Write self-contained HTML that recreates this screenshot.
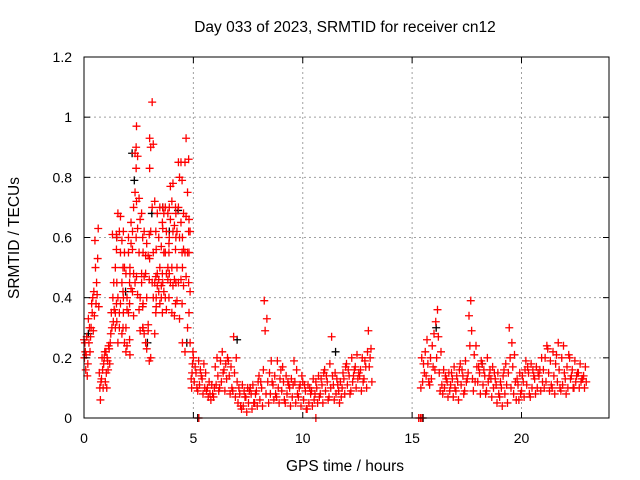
<!DOCTYPE html>
<html><head><meta charset="utf-8"><style>
html,body{margin:0;padding:0;background:#fff;}
svg{display:block;font-family:"Liberation Sans",sans-serif;}
</style></head><body>
<svg id="chart" width="640" height="480">
<rect x="0" y="0" width="640" height="480" fill="#fff"/>
<g id="grid"></g>
<g id="marks"></g>
<rect x="84" y="57" width="525" height="361" fill="none" stroke="#000" stroke-width="1"/>
<g id="axes"></g>
<text x="345" y="32" text-anchor="middle" font-size="15.5" fill="#000">Day 033 of 2023, SRMTID for receiver cn12</text>
<text x="345" y="471" text-anchor="middle" font-size="15.5" fill="#000">GPS time / hours</text>
<text transform="translate(19,238) rotate(-90)" text-anchor="middle" font-size="15.5" fill="#000">SRMTID / TECUs</text>
</svg>
<script>
const xTicks=[0,5,10,15,20];
const xTickLabels=["0","5","10","15","20"];
const yTicks=[0,0.2,0.4,0.6,0.8,1.0,1.2];
const yTickLabels=["0","0.2","0.4","0.6","0.8","1","1.2"];
const binStarts1=[0.0,0.1,0.2,0.3,0.4,0.5,0.6,0.7,0.8,0.9,1.0,1.1,1.2,1.3,1.4,1.5,1.6,1.7,1.8,1.9,2.0,2.1,2.2,2.3,2.4,2.5,2.6,2.7,2.8,2.9,3.0,3.1,3.2,3.3,3.4,3.5,3.6,3.7,3.8,3.9,4.0,4.1,4.2,4.3,4.4,4.5,4.6,4.7,4.8,4.9];
const binValues1=[
[.26,.22,.20,.16,.25],[.27,.21,.18,.14],[.30,.25,.33,.22],[.35,.38,.30,.27],[.40,.34,.42,.29],[.50,.59,.45,.38],[.63,.53,.41,.37],[.12,.06,.10,.15],[.13,.10,.16,.20],[.20,.18,.12,.22],
[.22,.20,.15,.19,.10],[.18,.23,.24,.16],[.25,.30,.35,.28],[.45,.40,.36,.32,.61],[.35,.38,.50,.56,.30,.61],[.68,.60,.40,.32,.25,.45],[.55,.62,.67,.35,.38,.30],[.50,.45,.30,.28,.42,.59],[.62,.50,.35,.25,.40,.55],[.48,.40,.30,.24,.22,.36],
[.55,.45,.35,.38,.60,.26],[.65,.50,.43,.48,.58,.21],[.70,.62,.48,.42,.34,.56],[.90,.88,.83,.75,.60,.45],[.97,.87,.72,.63,.47,.41],[.73,.66,.55,.40,.36,.29],[.68,.60,.48,.30,.45,.37],[.62,.55,.47,.30,.28,.38],[.58,.48,.40,.25,.23,.54],[.61,.54,.46,.31,.19,.29],
[.93,.90,.83,.62,.53,.20],[1.05,.91,.70,.55,.45,.40],[.72,.62,.45,.35,.28,.47],[.68,.56,.44,.40,.48,.37],[.70,.60,.50,.42,.38,.46],[.65,.57,.48,.40,.35,.44],[.70,.68,.63,.55,.45,.42],[.70,.62,.55,.48,.40,.36],[.68,.55,.46,.40,.50,.58],[.77,.70,.66,.48,.45,.60],
[.78,.72,.62,.50,.44,.35],[.70,.64,.56,.46,.38,.34],[.68,.62,.60,.50,.45,.39],[.85,.80,.70,.60,.45,.33],[.85,.79,.65,.55,.46,.38],[.68,.60,.56,.50,.44,.25],[.93,.85,.67,.55,.47,.22],[.86,.75,.62,.55,.45,.30],[.66,.62,.55,.42,.35,.25],[.22,.15,.13,.18,.10]];
const binWidth1=0.1;
const binStarts2=[5.0,5.2,5.4,5.6,5.8,6.0,6.2,6.4,6.6,6.8,7.0,7.2,7.4,7.6,7.8,8.0,8.2,8.4,8.6,8.8,9.0,9.2,9.4,9.6,9.8,10.0,10.2,10.4,10.6,10.8,11.0,11.2,11.4,11.6,11.8,12.0,12.2,12.4,12.6,12.8,13.0,
15.4,15.6,15.8,16.0,16.2,16.4,16.6,16.8,17.0,17.2,17.4,17.6,17.8,18.0,18.2,18.4,18.6,18.8,19.0,19.2,19.4,19.6,19.8,20.0,20.2,20.4,20.6,20.8,21.0,21.2,21.4,21.6,21.8,22.0,22.2,22.4,22.6,22.8];
const binValues2=[
[.20,.15,.12,.10,.17],[.19,.14,.11,.09,.16],[.18,.13,.10,.08,.15],[.12,.10,.08,.07,.09],[.10,.08,.06,.07,.11],[.17,.14,.11,.09,.20],[.19,.15,.12,.10,.22],[.18,.16,.13,.09,.20],[.17,.14,.10,.08,.19],[.20,.15,.09,.07,.27],
[.12,.08,.05,.04,.10],[.11,.07,.04,.03,.09],[.10,.07,.05,.02,.09],[.11,.08,.05,.03,.10],[.12,.09,.05,.04,.08],[.14,.10,.06,.04,.12],[.39,.33,.29,.16,.08],[.15,.12,.08,.05,.19],[.14,.11,.08,.06,.12],[.13,.10,.07,.05,.19],
[.16,.12,.09,.06,.17],[.14,.11,.08,.05,.12],[.13,.10,.07,.04,.11],[.16,.12,.08,.05,.19],[.14,.11,.07,.04,.10],[.12,.09,.06,.03,.11],[.11,.08,.05,.03,.10],[.13,.09,.06,.04,.08],[.14,.10,.07,.05,.12],[.15,.11,.08,.05,.13],
[.16,.12,.09,.06,.14],[.18,.14,.10,.07,.27],[.15,.11,.08,.06,.13],[.12,.09,.07,.05,.11],[.17,.13,.10,.08,.15],[.18,.14,.11,.08,.16],[.20,.16,.12,.09,.14],[.21,.17,.13,.10,.15],[.20,.16,.12,.09,.14],[.22,.17,.13,.10,.19],[.29,.23,.17,.12,.20],
[.20,.15,.12,.10,.18],[.26,.22,.18,.14,.12],[.24,.20,.17,.13,.11],[.36,.32,.28,.20,.16],[.27,.22,.15,.11,.09],[.16,.13,.10,.08,.14],[.15,.12,.09,.07,.11],[.17,.13,.10,.07,.15],[.16,.12,.09,.06,.14],[.18,.14,.11,.08,.16],
[.19,.15,.12,.09,.13],[.39,.34,.29,.24,.13],[.24,.21,.17,.12,.09],[.19,.15,.12,.08,.17],[.18,.14,.11,.08,.16],[.20,.16,.12,.09,.14],[.17,.13,.10,.07,.15],[.15,.11,.08,.05,.13],[.14,.10,.07,.04,.12],[.16,.11,.08,.05,.18],
[.30,.25,.20,.15,.10],[.21,.17,.12,.08,.06],[.15,.11,.08,.06,.13],[.16,.12,.09,.07,.14],[.19,.15,.11,.08,.17],[.18,.14,.10,.07,.16],[.17,.13,.10,.08,.15],[.20,.16,.12,.09,.14],[.24,.20,.16,.12,.10],[.23,.19,.15,.11,.09],
[.22,.18,.14,.10,.08],[.25,.21,.16,.12,.10],[.24,.20,.15,.11,.09],[.21,.17,.13,.10,.08],[.20,.16,.13,.10,.14],[.19,.15,.12,.10,.14],[.18,.15,.12,.10,.13],[.17,.14,.12,.10,.13]];
const binWidth2=0.2;
const zeroTimes=[5.25,10.6,15.3,15.38,15.45];
const blackTimes=[2.2,2.3,2.9,3.1,3.6,3.9,4.3,4.7,1.5,1.9,0.2,7.0,11.5,16.1,18.2];
const blackValues=[.88,.79,.25,.68,.70,.62,.69,.25,.60,.42,.28,.26,.22,.30,.18];
const blackZeroTimes=[5.2,15.5];

const NS="http://www.w3.org/2000/svg";
const X0=84,X1=609,Y0=418,Y1=57,XMAX=24,YMAX=1.2;
function xs(t){return X0+(t/XMAX)*(X1-X0);}
function ys(v){return Y0-(v/YMAX)*(Y0-Y1);}
const grid=document.getElementById('grid'),axes=document.getElementById('axes'),marks=document.getElementById('marks');
function mk(tag,attrs,parent){const e=document.createElementNS(NS,tag);for(const k in attrs)e.setAttribute(k,attrs[k]);parent.appendChild(e);return e;}
xTicks.forEach((t,i)=>{
  const x=xs(t);
  if(t>0){const g=mk('line',{x1:x,x2:x,y1:Y1,y2:Y0,stroke:'#a0a0a0','stroke-dasharray':'2,3','stroke-width':1},grid);
  
  }
  const a=mk('line',{x1:x,x2:x,y1:Y0,y2:Y0-6,stroke:'#000'},axes);
  
  
  const b=mk('line',{x1:x,x2:x,y1:Y1,y2:Y1+6,stroke:'#000'},axes);
  
  
  const l=mk('text',{x:x,y:443,'text-anchor':'middle','font-size':14,fill:'#000'},axes);
  l.textContent=xTickLabels[i];
  
  
});
yTicks.forEach((v,i)=>{
  const y=ys(v);
  if(v>0&&v<YMAX){const g=mk('line',{x1:X0,x2:X1,y1:y,y2:y,stroke:'#a0a0a0','stroke-dasharray':'2,3','stroke-width':1},grid);
  
  }
  const a=mk('line',{x1:X0,x2:X0+6,y1:y,y2:y,stroke:'#000'},axes);
  
  
  const b=mk('line',{x1:X1,x2:X1-6,y1:y,y2:y,stroke:'#000'},axes);
  
  
  const l=mk('text',{x:72,y:y+5,'text-anchor':'end','font-size':14,fill:'#000'},axes);
  l.textContent=yTickLabels[i];
  
  
});
function plus(t,v,color,name){
  const x=xs(t),y=ys(v);
  const p=mk('path',{d:`M${x-4},${y}h8M${x},${y-4}v8`,stroke:color,'stroke-width':1.3,fill:'none'},marks);
  
  
}
blackTimes.forEach((t,i)=>plus(t,blackValues[i],'#000','black-point'));
blackZeroTimes.forEach(t=>plus(t,0,'#000','black-zero-point'));
function drawBins(starts,vals,w){
  starts.forEach((s,i)=>{const arr=vals[i];const n=arr.length;arr.forEach((v,j)=>plus(s+((j*3+i)%n)*w/n,v,'#ff0000','red-point'));});
}
drawBins(binStarts1,binValues1,binWidth1);
drawBins(binStarts2,binValues2,binWidth2);
zeroTimes.forEach(t=>plus(t,0,'#ff0000','red-zero-point'));
</script>
</body></html>
